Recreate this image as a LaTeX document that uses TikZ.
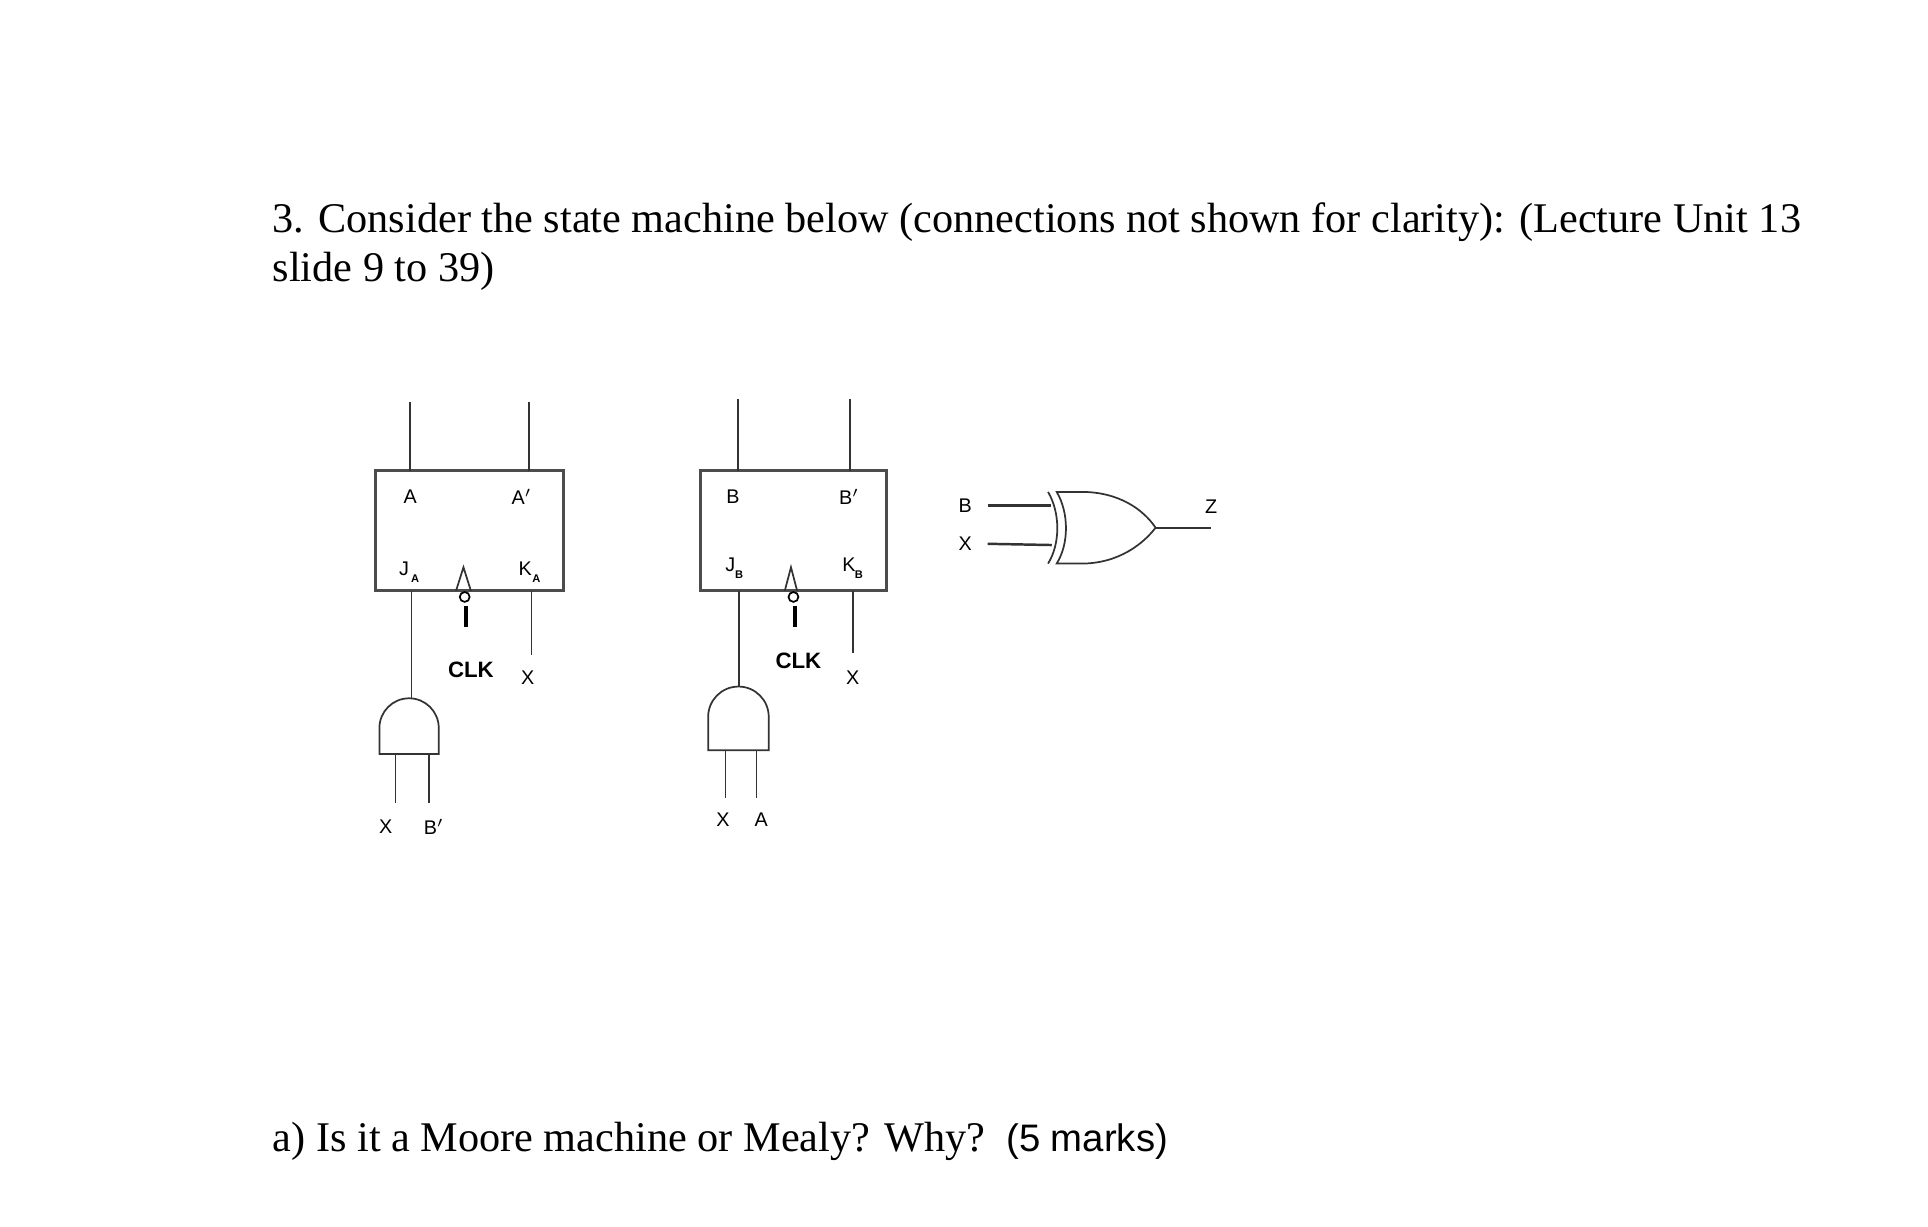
\documentclass[tikz,border=0pt]{standalone}
\usepackage{fontspec}
\setmainfont{Liberation Serif}
\newfontfamily\lsans{Liberation Sans}
\begin{document}
\begin{tikzpicture}[x=0.5pt,y=-0.5pt,line width=0.7pt,
  lbl/.style={font=\lsans\fontsize{8}{9}\selectfont,inner sep=0},
  sub/.style={font=\lsans\bfseries\fontsize{4.5}{5}\selectfont,inner sep=0},
  clk/.style={font=\lsans\bfseries\fontsize{9}{10}\selectfont,inner sep=0},
  ttl/.style={anchor=base west,inner sep=0,font=\fontsize{17.1}{20}\selectfont},
  wire/.style={draw=black!80},
  box/.style={draw=black!70,line width=1.3pt}]
\useasboundingbox (0,0) rectangle (1560,992);
% title
\node[ttl] (t1) at (220,188) {3. Consider the state machine below (connections not shown for clarity): (Lecture Unit 13};
\node[ttl] (t2) at (220,228) {slide 9 to 39)};
\node[ttl] (t3) at (220,932) {a) Is it a Moore machine or Mealy? Why?\ \ {\lsans\fontsize{15.5}{18}\selectfont (5 marks)}};
% FF A
\draw[box] (304,381) rectangle (456,478);
\coordinate (aq) at (332,381); \coordinate (aqt) at (332,325);
\coordinate (an) at (428,381); \coordinate (ant) at (428,325);
\draw[wire] (aq) -- (aqt); \draw[wire] (an) -- (ant);
\node[lbl] (lA) at (332,402) {A};
\node[lbl] (lAn) at (422,402) {A$'$};
\node[lbl] (lJA) at (327,460) {J}; \node[sub] at (336,468) {A};
\node[lbl] (lKA) at (425,460) {K}; \node[sub] at (434,468) {A};
\draw[wire] (369,478) -- (375,459) -- (381,478);
\node[circle,draw,inner sep=0,minimum size=4pt] (bA) at (376,483) {};
\draw[line width=1.6pt] (377,490) -- (377,507);
\node[clk] (cA) at (381,542) {CLK};
\coordinate (ka) at (430,478); \coordinate (kab) at (430,530);
\draw[wire] (ka) -- (kab); \node[lbl] (xA) at (427,548) {X};
\coordinate (ja) at (333,478); \coordinate (jab) at (333,565);
\draw[wire] (ja) -- (jab);
\draw[wire] (307,610) -- (307,589) arc[start angle=180,end angle=360,radius=24] -- (355,610) -- cycle;
\draw[wire] (320,610) -- (320,650); \draw[wire] (347,610) -- (347,650);
\node[lbl] (xa2) at (312,669) {X}; \node[lbl] (ba) at (351,669) {B$'$};
% FF B
\draw[box] (567,381) rectangle (717,478);
\coordinate (bq) at (597,381); \coordinate (bqt) at (597,323);
\coordinate (bn) at (688,381); \coordinate (bnt) at (688,323);
\draw[wire] (bq) -- (bqt); \draw[wire] (bn) -- (bnt);
\node[lbl] (lB) at (593,402) {B};
\node[lbl] (lBn) at (687,402) {B$'$};
\node[lbl] (lJB) at (591,457) {J}; \node[sub] at (598,465) {B};
\node[lbl] (lKB) at (687,457) {K}; \node[sub] at (695,465) {B};
\draw[wire] (635,478) -- (640,459) -- (645,478);
\node[circle,draw,inner sep=0,minimum size=4pt] (bB) at (642,483) {};
\draw[line width=1.6pt] (643,490) -- (643,507);
\node[clk] (cB) at (646,535) {CLK};
\coordinate (kb) at (690,478); \coordinate (kbb) at (690,528);
\draw[wire] (kb) -- (kbb); \node[lbl] (xB) at (690,548) {X};
\coordinate (jb) at (598,478); \coordinate (jbb) at (598,555);
\draw[wire] (jb) -- (jbb);
\draw[wire] (573,607) -- (573,580) arc[start angle=180,end angle=360,radius=24.5] -- (622,607) -- cycle;
\draw[wire] (587,607) -- (587,646); \draw[wire] (612,607) -- (612,646);
\node[lbl] (xb2) at (585,663) {X}; \node[lbl] (ab) at (616,663) {A};
% XOR
\node[lbl] (xB1) at (781,409) {B};
\node[lbl] (xX1) at (781,440) {X};
\draw[wire,line width=1pt] (xB1.east)+(12,0) -- (850,409);
\draw[wire,line width=1pt] (xX1.east)+(12,0) -- (851,441);
\draw[wire] (848,398) .. controls (858,415) and (858,440) .. (848,456);
\draw[wire] (855,398) .. controls (865,415) and (865,440) .. (855,456)
  -- (875,456) .. controls (905,456) and (925,440) .. (935,427)
  .. controls (925,412) and (905,398) .. (875,398) -- cycle;
\draw[wire] (935,427) -- (980,427);
\node[lbl] (z) at (980,410) {Z};
\end{tikzpicture}
\end{document}
